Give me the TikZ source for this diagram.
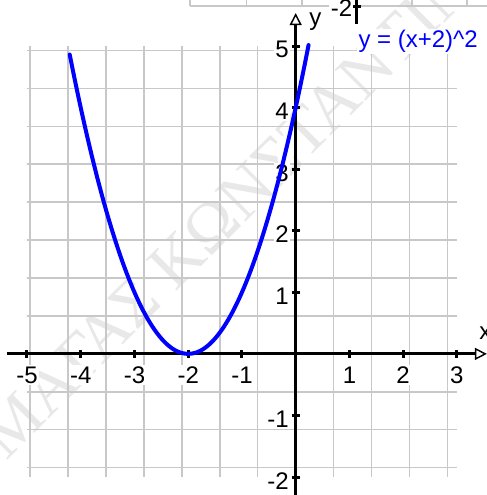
\documentclass[tikz,border=0pt]{standalone}
\usepackage{fontspec}
\setmainfont{Liberation Sans}
\newfontfamily\wmfont{Liberation Serif}
\usetikzlibrary{arrows.meta}
\definecolor{gridgray}{RGB}{200,200,200}
\definecolor{curveblue}{RGB}{0,0,255}
\tikzset{
  gridline/.style={draw=gridgray, line width=1.1pt},
  axisline/.style={line width=2.25pt, -{Triangle[open,length=9pt,width=9pt,line width=1.1pt]}},
  tickmark/.style={line width=2.25pt},
  ticklabel/.style={fill=white, inner sep=1pt, font=\fontsize{18}{20}\selectfont},
}

\begin{document}
\begin{tikzpicture}[x=40.31pt,y=46.18pt]
\useasboundingbox (-5.502,-2.292) rectangle (3.558,5.748);

% Watermark
\node[rotate=45, anchor=base west, text=black!9, font=\wmfont\fontsize{50}{50}\selectfont] (watermark) at (-5.45,-1.8) {ΜΑΓΑΣ ΚΩΝΣΤΑΝΤΙΝΟΣ};

%Grid
\draw[gridline] (-5,-2) grid (3,5);

%Piece of the graph above
\draw[gridline] (-1.967,5.650) -- (3.558,5.650);
\foreach \u in {-1.967,-0.916,0.116,2.163,3.186}
  \draw[gridline] (\u,5.650) -- (\u,5.748);
\coordinate (topaxisA) at (1.14,5.358);
\coordinate (topaxisB) at (1.14,5.748);
\draw[tickmark] (topaxisA) -- (topaxisB);
\draw[tickmark] (1.066,5.650) -- (1.214,5.650);
\node[ticklabel, anchor=east] (toplabel) at (1.08,5.62) {-2};

% Tick labels
\foreach \i in {-5,-4,-3,-2,-1,1,2,3}
  \node[ticklabel] (xl\i) at (\i,-0.343) {\i};
\foreach \j in {-2,-1,1,2,3,4,5}
  \node[ticklabel, anchor=east] (yl\j) at (-0.1,\j-0.06) {\j};

%Axes
\coordinate (xstart) at (-5.372,0);
\coordinate (xend) at (3.558,0);
\coordinate (ystart) at (0,-2.292);
\coordinate (yend) at (0,5.535);
\draw[axisline] (xstart) -- (xend);
\draw[axisline] (ystart) -- (yend);
\foreach \i in {-5,-4,-3,-2,-1,1,2,3}
  \draw[tickmark] (\i,-0.065) -- (\i,0.065);
\foreach \j in {-2,-1,1,2,3,4,5}
  \draw[tickmark] (-0.075,\j) -- (0.075,\j);

% Text Node
\node[ticklabel] (xname) at (3.53,0.34) {x};
% Text Node
\node[ticklabel] (yname) at (0.365,5.40) {y};

%Curve
\draw[curveblue, line width=3pt, line cap=round] plot[domain=-4.205:0.24, samples=60, smooth] (\x,{(\x+2)^2});

% Text Node
\node[ticklabel, text=curveblue, anchor=west] (funclabel) at (1.14,5.07) {y = (x+2)\textasciicircum2};

\end{tikzpicture}
\end{document}
